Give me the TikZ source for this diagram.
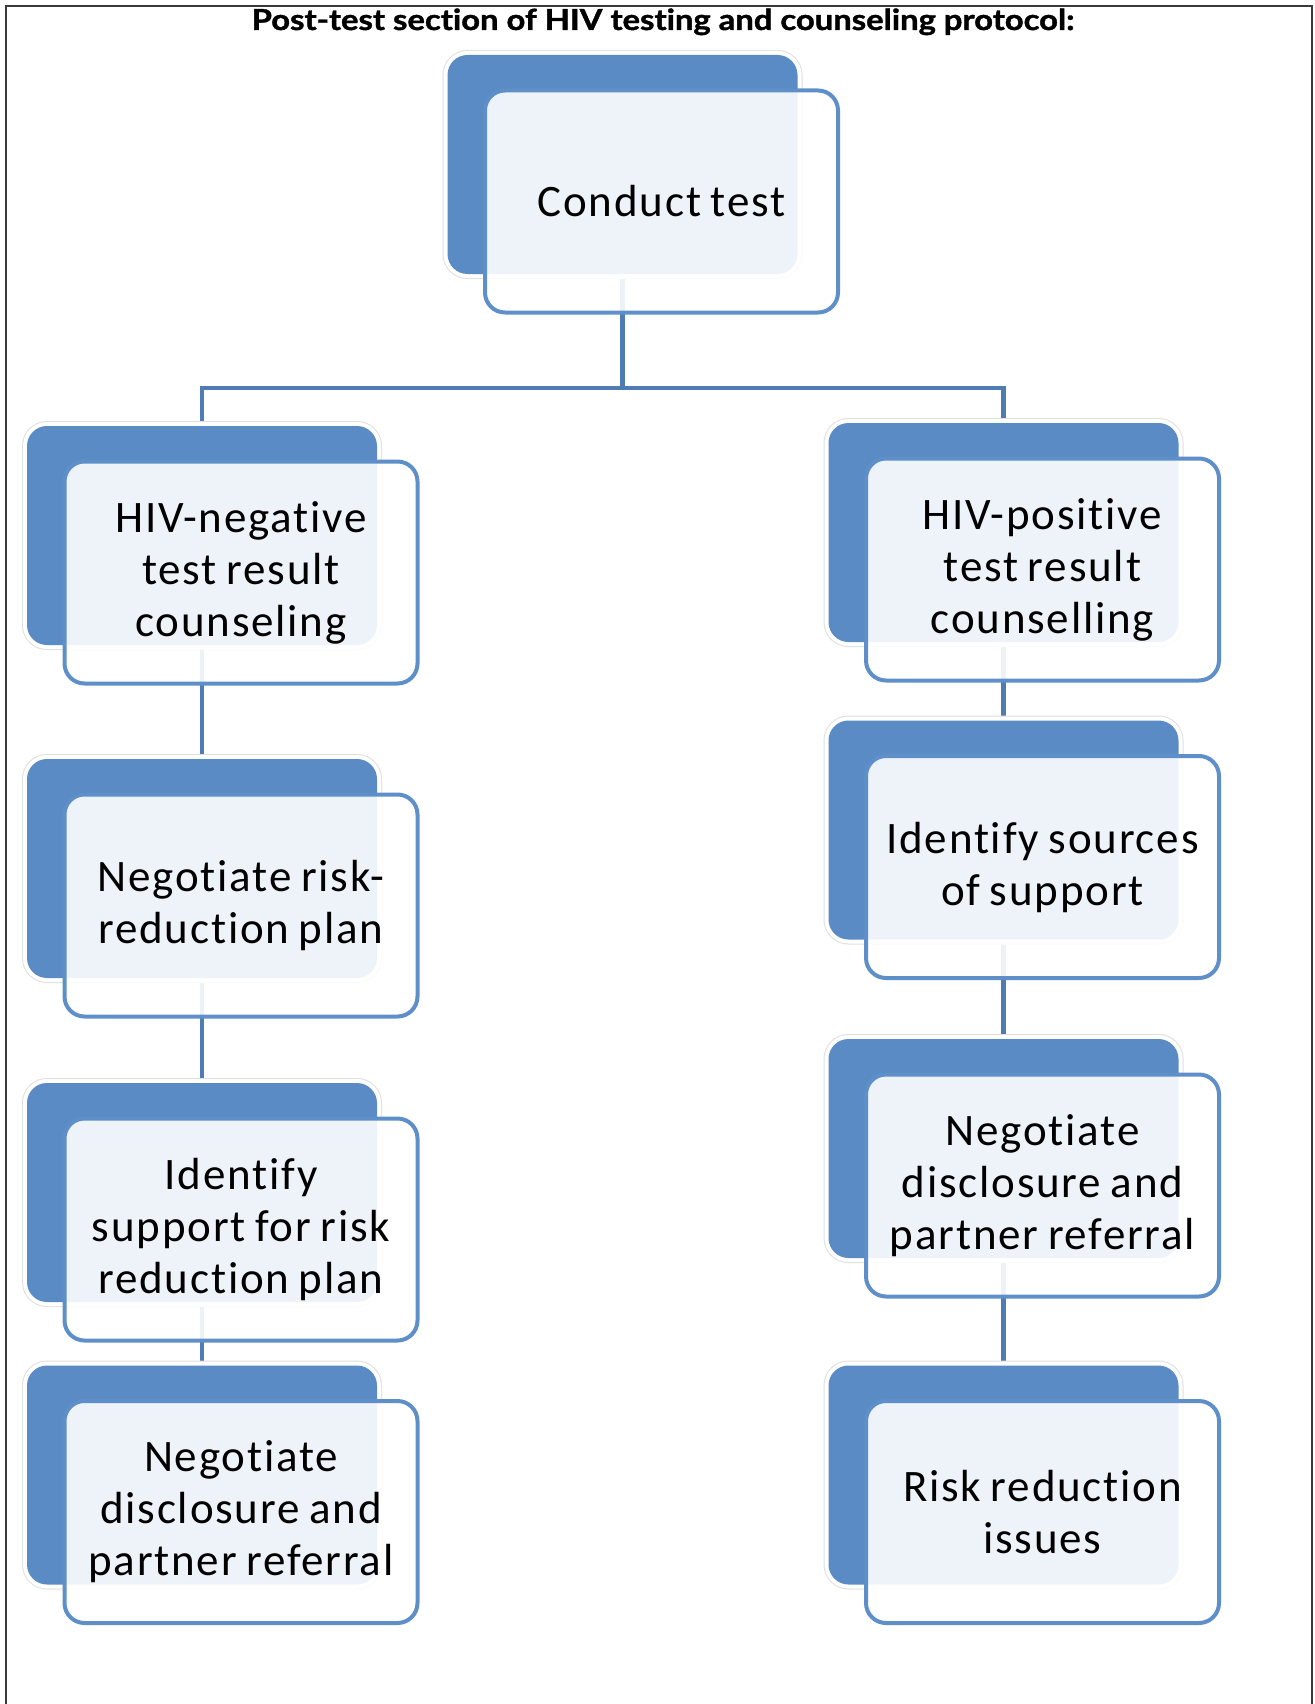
\documentclass[tikz,border=0pt]{standalone}
\usepackage{fontspec}
\setmainfont{Carlito}[Ligatures={NoCommon}, LetterSpace=4, WordSpace=0.8]
\newfontfamily\titlefont{Lato}[Ligatures={NoCommon}, BoldFeatures={FakeBold=1.2}]
\usetikzlibrary{calc}
\definecolor{darkbox}{HTML}{5B8BC4}
\definecolor{frontline}{HTML}{5F8FC9}
\definecolor{conn}{HTML}{4F7CB3}
\definecolor{frame}{HTML}{3A3A3A}
\pgfdeclarelayer{bg}
\pgfsetlayers{bg,main}
\newcommand\pairbox[4]{%
  \node[back] (#1b) at (#2,#3) {};
  \node[front] (#1) at ([shift={(39,37)}]#1b.center) {#4};}
\begin{document}
\begin{tikzpicture}[x=1pt,y=-1pt,
  back/.style={rounded corners=20pt, minimum width=350pt, minimum height=219pt,
    fill=darkbox, inner sep=0pt,
    preaction={draw=gray!25,line width=10pt},
    preaction={draw=white,line width=8pt}},
  front/.style={rounded corners=20pt, minimum width=353pt, minimum height=222pt,
    draw=frontline, line width=4pt, fill=white, fill opacity=0.9, text opacity=1,
    align=center, font=\fontsize{45}{52}\selectfont, inner sep=0pt},
  link/.style={draw=conn, line width=4.5pt},
  framestyle/.style={draw=frame, line width=2pt}]
\useasboundingbox (0,0) rectangle (1314,1704);
\begin{pgfonlayer}{bg}
\fill[white] (0,0) rectangle (1314,1704);
\end{pgfonlayer}
\draw[framestyle] (6,1712) -- (6,6) -- (1312,6) -- (1312,1712);
\node[font=\titlefont\bfseries\fontsize{29}{32}\selectfont, anchor=base, inner sep=0pt] (title) at (663,30) {\scalebox{1.13}[1]{Post-test section of HIV testing and counseling protocol:}};
\pairbox{c0}{622.5}{164.5}{Conduct test}
\pairbox{L1}{202}{535.5}{HIV-negative\\test result\\counseling}
\pairbox{L2}{202}{868.5}{Negotiate risk-\\reduction plan}
\pairbox{L3}{202}{1192.5}{Identify\\support for risk\\reduction plan}
\pairbox{L4}{202}{1475}{Negotiate\\disclosure and\\partner referral}
\pairbox{R1}{1003.5}{532.5}{HIV-positive\\test result\\counselling}
\pairbox{R2}{1003.5}{830}{Identify sources\\of support}
\pairbox{R3}{1003.5}{1148.5}{Negotiate\\disclosure and\\partner referral}
\pairbox{R4}{1003.5}{1475}{Risk reduction\\issues}
\coordinate (split) at (622.5,388);
\begin{pgfonlayer}{bg}
\draw[link] (c0b.south) -- (split);
\draw[link] (L1b.north) |- (split) -| (R1b.north);
\draw[link] (L1b.south) -- (L2b.north);
\draw[link] (L2b.south) -- (L3b.north);
\draw[link] (L3b.south) -- (L4b.north);
\draw[link] (R1b.south) -- (R2b.north);
\draw[link] (R2b.south) -- (R3b.north);
\draw[link] (R3b.south) -- (R4b.north);
\end{pgfonlayer}
\end{tikzpicture}
\end{document}
